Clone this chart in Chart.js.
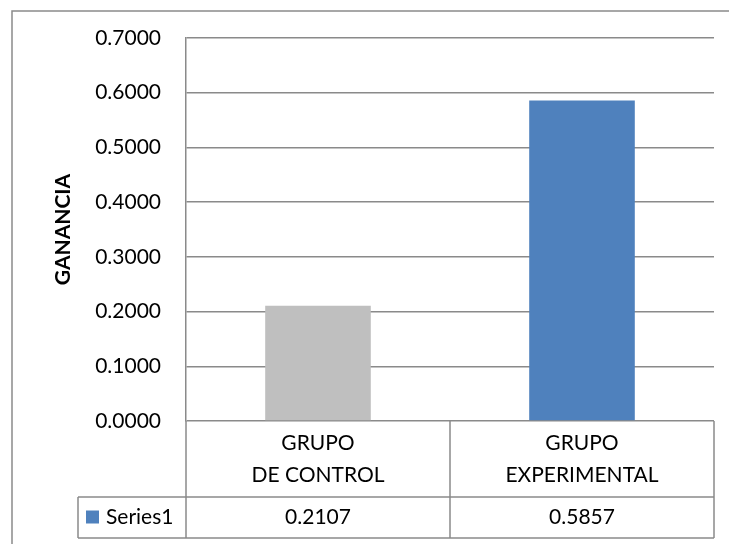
<!DOCTYPE html>
<html>
<head>
<meta charset="utf-8">
<script src="https://cdn.jsdelivr.net/npm/chart.js@4/dist/chart.umd.min.js"></script>
<style>
  html, body { margin: 0; padding: 0; background: #ffffff; }
  #wrap { width: 729px; height: 544px; }
</style>
</head>
<body>
<div id="wrap"><canvas id="c" width="729" height="544"></canvas></div>
<script>
// Categories (two lines each), series and values
const categories = [['GRUPO', 'DE CONTROL'], ['GRUPO', 'EXPERIMENTAL']];
const seriesName = 'Series1';
const gananciaValues = [0.2107, 0.5857];
const yAxisTitle = 'GANANCIA';
const yMin = 0;
const yMax = 0.7;
const yStep = 0.1;

// Styling
const barColors = ['#BFBFBF', '#4F81BD'];
const seriesColor = '#4F81BD';
const lineColor = '#8a8a8a';
const fontFamily = 'Lato, "Open Sans", sans-serif';
const fontSize = 21;

// Data table below the plot: category row, then values row with legend key
const dataTablePlugin = {
  id: 'dataTable',
  afterDraw(chart) {
    const ctx = chart.ctx;
    const xs = chart.scales.x;
    const area = chart.chartArea;
    const left = area.left, right = area.right;
    const row1Top = area.bottom;
    const row1Bottom = row1Top + 76;
    const row2Bottom = row1Bottom + 41;
    const keyCellLeft = 78;
    const centers = categories.map((_, i) => xs.getPixelForValue(i));
    const dividers = [];
    for (let i = 0; i < centers.length - 1; i++) dividers.push((centers[i] + centers[i + 1]) / 2);

    ctx.save();
    ctx.strokeStyle = lineColor;
    ctx.lineWidth = 1.5;
    ctx.beginPath();
    // left edge of plot continues down through the table
    ctx.moveTo(left, row1Top); ctx.lineTo(left, row2Bottom);
    ctx.moveTo(right, row1Top); ctx.lineTo(right, row2Bottom);
    dividers.forEach(d => { ctx.moveTo(d, row1Top); ctx.lineTo(d, row2Bottom); });
    ctx.moveTo(keyCellLeft, row1Bottom); ctx.lineTo(right, row1Bottom);
    ctx.moveTo(keyCellLeft, row2Bottom); ctx.lineTo(right, row2Bottom);
    ctx.moveTo(keyCellLeft, row1Bottom); ctx.lineTo(keyCellLeft, row2Bottom);
    ctx.stroke();

    // outer chart frame
    ctx.strokeRect(12, 11, 760, 600);

    ctx.fillStyle = '#000000';
    ctx.font = fontSize + 'px ' + fontFamily;
    ctx.textAlign = 'center';
    ctx.textBaseline = 'middle';
    const rowMid1 = (row1Top + row1Bottom) / 2;
    const lineGap = 32;
    categories.forEach((lines, i) => {
      const start = rowMid1 - (lines.length - 1) * lineGap / 2;
      lines.forEach((t, j) => ctx.fillText(t, centers[i], start + j * lineGap));
    });
    const rowMid2 = (row1Bottom + row2Bottom) / 2;
    gananciaValues.forEach((v, i) => ctx.fillText(v.toFixed(4), centers[i], rowMid2));

    // legend key and series name
    ctx.fillStyle = seriesColor;
    ctx.fillRect(keyCellLeft + 8, rowMid2 - 7, 13, 13);
    ctx.fillStyle = '#000000';
    ctx.textAlign = 'left';
    ctx.fillText(seriesName, keyCellLeft + 28, rowMid2);
    ctx.restore();
  }
};

new Chart(document.getElementById('c'), {
  type: 'bar',
  data: {
    labels: categories,
    datasets: [{
      label: seriesName,
      data: gananciaValues,
      backgroundColor: barColors,
      borderWidth: 0,
      barPercentage: 0.4,
      categoryPercentage: 1.0
    }]
  },
  options: {
    responsive: false,
    animation: false,
    devicePixelRatio: 1,
    layout: { padding: { left: 0, top: 38, right: 15, bottom: 123 } },
    plugins: {
      legend: { display: false },
      tooltip: { enabled: false }
    },
    scales: {
      x: { display: false, offset: true },
      y: {
        min: yMin,
        max: yMax,
        afterFit(scale) { scale.width = 186; },
        ticks: {
          stepSize: yStep,
          padding: 25,
          color: '#000000',
          font: { family: fontFamily, size: fontSize },
          callback: v => Number(v).toFixed(4)
        },
        grid: { color: lineColor, lineWidth: 1.5, drawTicks: false },
        border: { display: true, color: lineColor, width: 1.5 },
        title: {
          display: true,
          text: yAxisTitle,
          color: '#000000',
          font: { family: fontFamily, size: fontSize, weight: 'bold' },
          padding: { top: 51, bottom: 0 }
        }
      }
    }
  },
  plugins: [dataTablePlugin]
});
</script>
</body>
</html>
